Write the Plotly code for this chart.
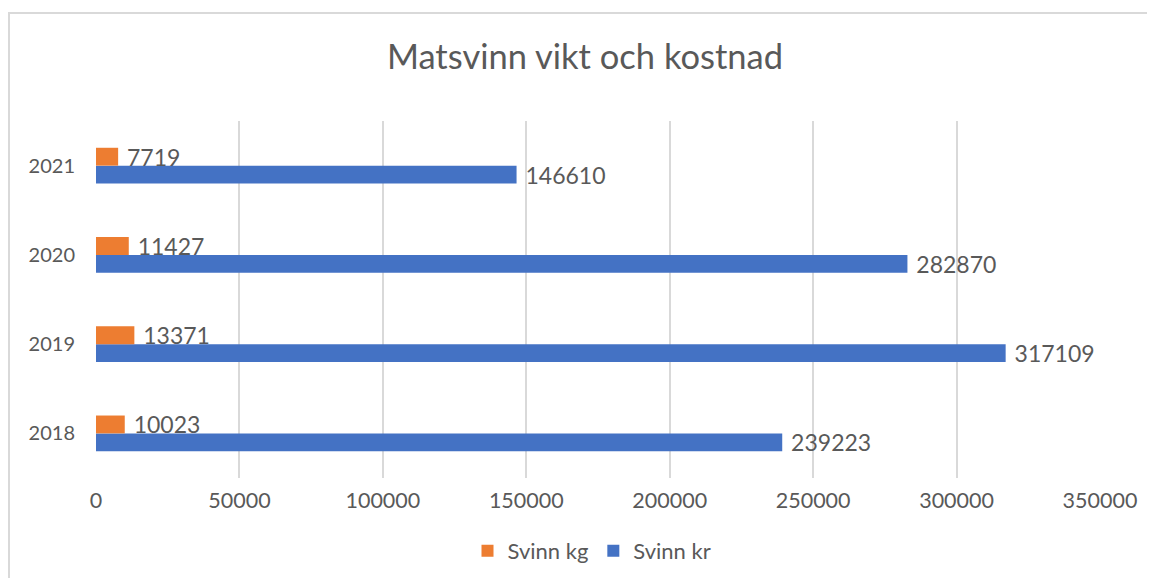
import plotly.graph_objects as go

years = ["2018", "2019", "2020", "2021"]
svinn_kg = [10023, 13371, 11427, 7719]
svinn_kr = [239223, 317109, 282870, 146610]
x_ticks = [0, 50000, 100000, 150000, 200000, 250000, 300000, 350000]

FONT = "Lato"
TXT = "#595959"
OFF = 8  # browser body margin
W, H = 1155 - 2 * OFF, 586 - 2 * OFF
# plot area in screen pixels: x 96..1100, y 121..478
L = 96 - OFF
T = 121 - OFF
R = W - (1100 - OFF)
B = H - (478 - OFF)
pw, ph = W - L - R, H - T - B

def px(x):
    return (x - OFF - L) / pw

def py(y):
    return (H - B - (y - OFF)) / ph

LABEL_TPL = "\u00a0%{text}"

fig = go.Figure()
fig.add_trace(go.Bar(
    y=years, x=svinn_kr, orientation="h", name="Svinn kr",
    marker=dict(color="#4472C4", line=dict(width=0)),
    text=[str(v) for v in svinn_kr],
    texttemplate=LABEL_TPL, textposition="outside",
    textfont=dict(family=FONT, size=23, color=TXT),
    constraintext="none", cliponaxis=False, legendrank=2,
))
fig.add_trace(go.Bar(
    y=years, x=svinn_kg, orientation="h", name="Svinn kg",
    marker=dict(color="#ED7D31", line=dict(width=0)),
    text=[str(v) for v in svinn_kg],
    texttemplate=LABEL_TPL, textposition="outside",
    textfont=dict(family=FONT, size=23, color=TXT),
    constraintext="none", cliponaxis=False, legendrank=1,
))

fig.update_layout(
    width=W, height=H,
    margin=dict(l=L, r=R, t=T, b=B, autoexpand=False),
    paper_bgcolor="white", plot_bgcolor="white",
    barmode="group", bargap=0.6, bargroupgap=0,
    font=dict(family=FONT, color=TXT),
    title=dict(text="Matsvinn vikt och kostnad", x=px(585), xref="paper",
               xanchor="center",
               y=1 - (57 - OFF) / H, yanchor="middle",
               font=dict(family=FONT, size=34.5, color=TXT)),
    xaxis=dict(range=[0, 350000], tickvals=x_ticks,
               ticktext=[str(v) for v in x_ticks],
               showgrid=True, gridcolor="#D9D9D9", gridwidth=2,
               zeroline=False, showline=False, ticks="",
               ticklabelstandoff=7,
               tickfont=dict(family=FONT, size=21.5, color=TXT)),
    yaxis=dict(showgrid=False, zeroline=False, showline=False, ticks="",
               ticklabelstandoff=20,
               tickfont=dict(family=FONT, size=20, color=TXT)),
    legend=dict(orientation="h", x=px(592), xanchor="center",
                y=py(551), yanchor="middle",
                font=dict(family=FONT, size=22, color=TXT),
                itemwidth=30),
    showlegend=True,
)

fig.add_shape(type="rect", xref="paper", yref="paper",
              x0=px(9), x1=px(1180), y0=py(13), y1=py(640),
              line=dict(color="#D9D9D9", width=2), fillcolor="rgba(0,0,0,0)",
              layer="below")

fig.write_html("out.html")
